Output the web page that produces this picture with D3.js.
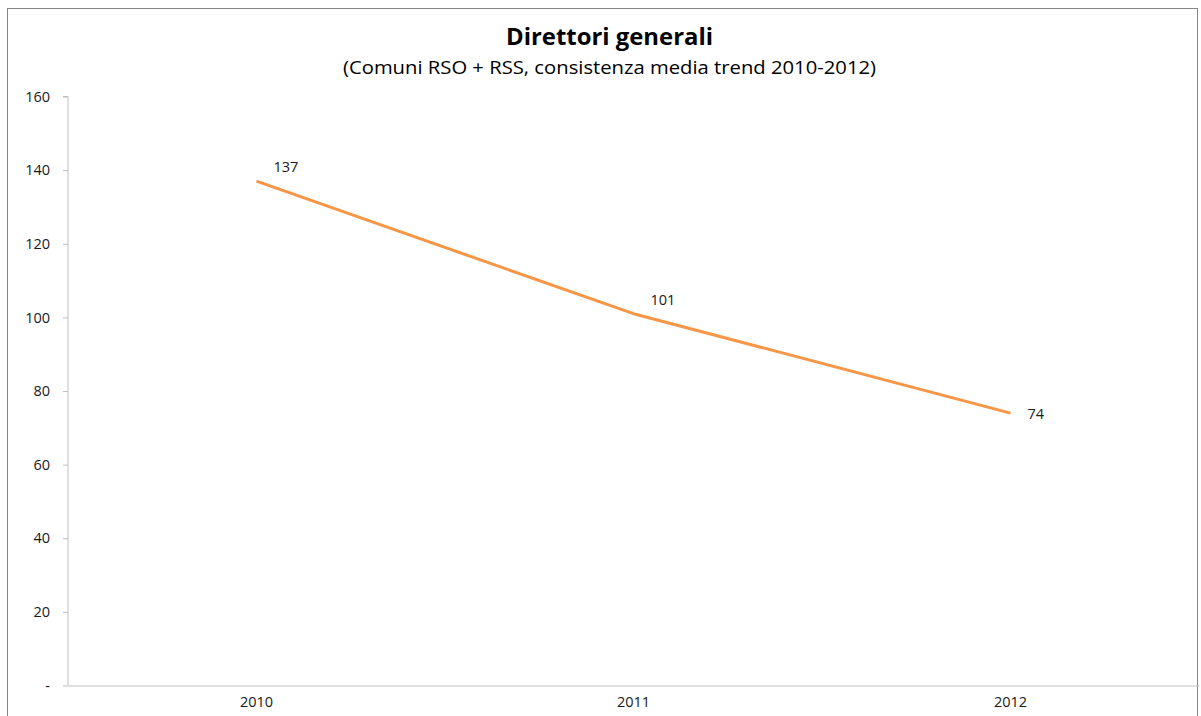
<!DOCTYPE html>
<html><head><meta charset="utf-8">
<script src="https://cdn.jsdelivr.net/npm/d3@7"></script>
<style>body{margin:0;background:#fff}svg{display:block}</style>
</head><body>
<svg id="c" width="1201" height="716"></svg>
<script>
const years = ["2010", "2011", "2012"];
const values = [137, 101, 74];
const yTicks = [0, 20, 40, 60, 80, 100, 120, 140, 160];
const title = "Direttori generali";
const subtitle = "(Comuni RSO + RSS, consistenza media trend 2010-2012)";

const svg = d3.select("#c");
const m = {left: 68, right: 1199, top: 96.5, bottom: 685.5};

svg.append("rect").attr("x", 7.5).attr("y", 8.5).attr("width", 1190).attr("height", 720)
  .attr("fill", "#fff").attr("stroke", "#868686").attr("stroke-width", 1);

const x = d3.scaleBand().domain(years).range([m.left, m.right]);
const y = d3.scaleLinear().domain([0, 160]).range([m.bottom, m.top]);
const font = "'Open Sans', 'Noto Sans', sans-serif";

svg.append("text").attr("x", 609.5).attr("y", 45).attr("text-anchor", "middle")
  .attr("font-family", font).attr("font-weight", "bold").attr("font-size", 22.5)
  .attr("textLength", 207).attr("lengthAdjust", "spacingAndGlyphs")
  .attr("fill", "#000").text(title);
svg.append("text").attr("x", 609.5).attr("y", 74).attr("text-anchor", "middle")
  .attr("font-family", font).attr("font-size", 18)
  .attr("textLength", 533).attr("lengthAdjust", "spacingAndGlyphs")
  .attr("fill", "#000").text(subtitle);

const ya = svg.append("g").attr("transform", `translate(${m.left},0)`)
  .call(d3.axisLeft(y).tickValues(yTicks).tickSize(5).tickPadding(13)
    .tickFormat(d => d === 0 ? "-" : d));
ya.select(".domain").attr("stroke", "#bfbfbf").attr("d", `M-5,${y(160)}H0V${y(0)}`);
ya.selectAll(".tick line").attr("stroke", "#bfbfbf");
ya.selectAll("text").attr("font-family", font).attr("font-size", 14.5).attr("fill", "#1a1a1a");

const xa = svg.append("g").attr("transform", `translate(0,${m.bottom})`)
  .call(d3.axisBottom(x).tickSize(0).tickPadding(11));
xa.select(".domain").attr("stroke", "#bfbfbf");
xa.selectAll("text").attr("font-family", font).attr("font-size", 14.5).attr("fill", "#1a1a1a");

const pts = years.map((yr, i) => ({yr, v: values[i], i}));
const line = d3.line().x(d => x(d.yr) + x.bandwidth() / 2).y(d => y(d.v));
svg.append("path").datum(pts).attr("d", line).attr("fill", "none")
  .attr("stroke", "#F79646").attr("stroke-width", 3).attr("stroke-linejoin", "round");

svg.selectAll(".lbl").data(pts).enter().append("text")
  .attr("x", d => x(d.yr) + x.bandwidth() / 2 + 17)
  .attr("y", d => y(d.v) + (d.i === pts.length - 1 ? 6 : -9))
  .attr("font-family", font).attr("font-size", 14.5).attr("fill", "#1a1a1a")
  .text(d => d.v);
</script>
</body></html>
